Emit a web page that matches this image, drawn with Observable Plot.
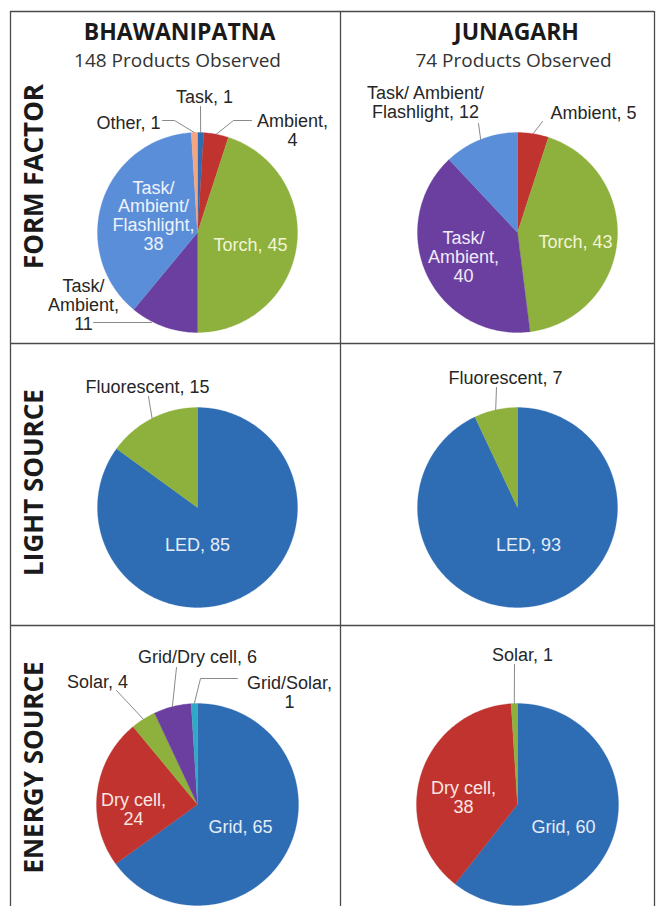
<!DOCTYPE html>
<html><head><meta charset="utf-8">
<script src="https://cdn.jsdelivr.net/npm/d3@7"></script>
<script src="https://cdn.jsdelivr.net/npm/@observablehq/plot@0.6"></script>
<style>body{margin:0;background:#fff}</style>
</head><body><div id="chart"></div>
<script>
// ---------- DATA ----------
const cities = ["BHAWANIPATNA", "JUNAGARH"];
const productsObserved = [148, 74];
const rowTitles = ["FORM FACTOR", "LIGHT SOURCE", "ENERGY SOURCE"];

const formBhawCats = ["Task", "Ambient", "Torch", "Task/ Ambient", "Task/ Ambient/ Flashlight", "Other"];
const formBhawVals = [1, 4, 45, 11, 38, 1];
const formJunaCats = ["Ambient", "Torch", "Task/ Ambient", "Task/ Ambient/ Flashlight"];
const formJunaVals = [5, 43, 40, 12];
const lightBhawCats = ["LED", "Fluorescent"];
const lightBhawVals = [85, 15];
const lightJunaCats = ["LED", "Fluorescent"];
const lightJunaVals = [93, 7];
const energyBhawCats = ["Grid", "Dry cell", "Solar", "Grid/Dry cell", "Grid/Solar"];
const energyBhawVals = [65, 24, 4, 6, 1];
const energyJunaCats = ["Grid", "Dry cell", "Solar"];
const energyJunaVals = [60, 38, 1];

// ---------- STYLE ----------
const categoryColors = {
  "Task": "#2E6DB4", "Ambient": "#C0332E", "Torch": "#8DB13C",
  "Task/ Ambient": "#6B3FA0", "Task/ Ambient/ Flashlight": "#5B8ED8", "Other": "#F4A582",
  "LED": "#2E6DB4", "Fluorescent": "#8DB13C",
  "Grid": "#2E6DB4", "Dry cell": "#C0332E", "Solar": "#8DB13C",
  "Grid/Dry cell": "#6B3FA0", "Grid/Solar": "#31A9C6"
};
const insideTextColors = {
  "#8DB13C": "#F1F5D6", "#5B8ED8": "#EEF3FB", "#6B3FA0": "#F1EAF8",
  "#C0332E": "#FBE6E2", "#2E6DB4": "#E4ECF8"
};

// ---------- LAYOUT ----------
const W = 657, H = 906;
const colX = [197, 517];
const rowY = [232, 507, 804];
const radii = [100, 100, 101];
const borderXs = [10, 340, 654];
const borderYs = [11, 343, 625];

// label placement per pie: dx, dy relative to pie center (dy = baseline of last line)
const pies = [
  {row: 0, col: 0, cats: formBhawCats, vals: formBhawVals, labels: {
    "Task": {dx: 7, dy: -130, leader: [[3, -126]]},
    "Ambient": {dx: 95, dy: -87, wrap: [1], leader: [[54, -112], [36, -112]]},
    "Torch": {dx: 53, dy: 18, inside: true},
    "Task/ Ambient": {dx: -114, dy: 97, wrap: [1, 1], leader: [[-104, 90], [-46, 90]], noSlice: true},
    "Task/ Ambient/ Flashlight": {dx: -44, dy: 17, wrap: [1, 1, 1], inside: true},
    "Other": {dx: -37, dy: -104, anchor: "end", leader: [[-35, -112], [-23, -112]]}
  }},
  {row: 0, col: 1, cats: formJunaCats, vals: formJunaVals, labels: {
    "Ambient": {dx: 76, dy: -114, leader: [[25, -111]]},
    "Torch": {dx: 58, dy: 15, inside: true},
    "Task/ Ambient": {dx: -54, dy: 49, wrap: [1, 1], inside: true},
    "Task/ Ambient/ Flashlight": {dx: -92, dy: -115, wrap: [0, 1, 0], leader: [[-39, -109]]}
  }},
  {row: 1, col: 0, cats: lightBhawCats, vals: lightBhawVals, labels: {
    "LED": {dx: 0, dy: 43, inside: true},
    "Fluorescent": {dx: -50, dy: -115, leader: [[-49, -111]]}
  }},
  {row: 1, col: 1, cats: lightJunaCats, vals: lightJunaVals, labels: {
    "LED": {dx: 11, dy: 43, inside: true},
    "Fluorescent": {dx: -12, dy: -124, leader: [[-21, -120]]}
  }},
  {row: 2, col: 0, cats: energyBhawCats, vals: energyBhawVals, labels: {
    "Grid": {dx: 43, dy: 28, inside: true},
    "Dry cell": {dx: -64, dy: 20, wrap: [0, 1], inside: true},
    "Solar": {dx: -100, dy: -117, leader: [[-81, -114]]},
    "Grid/Dry cell": {dx: 0, dy: -142, leader: [[-21, -137]]},
    "Grid/Solar": {dx: 92, dy: -97, wrap: [1], leader: [[40, -126], [3, -126]]}
  }},
  {row: 2, col: 1, cats: energyJunaCats, vals: energyJunaVals, labels: {
    "Grid": {dx: 46, dy: 28, inside: true},
    "Dry cell": {dx: -54, dy: 8, wrap: [0, 1], inside: true},
    "Solar": {dx: 5, dy: -144, leader: [[-3, -140]]}
  }}
];

// ---------- BUILD ----------
const sliceMarks = [];
const labelRows = [];
const leaderRows = [];
let leaderId = 0;

for (const p of pies) {
  const cx = colX[p.col], cy = rowY[p.row], r = radii[p.row];
  const total = d3.sum(p.vals);
  let cum = 0;
  p.cats.forEach((cat, i) => {
    const a0 = cum / total * 2 * Math.PI;
    cum += p.vals[i];
    const a1 = cum / total * 2 * Math.PI;
    const n = Math.max(2, Math.ceil((a1 - a0) / (Math.PI / 180)));
    const pts = [{x: cx, y: cy}];
    for (let k = 0; k <= n; k++) {
      const t = a0 + (a1 - a0) * k / n;
      pts.push({x: cx + r * Math.sin(t), y: cy - r * Math.cos(t)});
    }
    pts.push({x: cx, y: cy});
    const color = categoryColors[cat];
    sliceMarks.push(Plot.line(pts, {x: "x", y: "y", fill: color, stroke: color, strokeWidth: 0.3, curve: "linear"}));

    const L = p.labels[cat];
    if (!L) return;
    // label text from category and value, wrapping chosen spaces
    const parts = `${cat}, ${p.vals[i]}`.split(" ");
    const wrap = L.wrap || [];
    let text = parts[0];
    for (let k = 1; k < parts.length; k++) text += (wrap[k - 1] ? "\n" : " ") + parts[k];
    labelRows.push({
      x: cx + L.dx, y: cy + L.dy, text,
      anchor: L.anchor || "middle",
      color: L.inside ? insideTextColors[color] : "#262626"
    });
    if (L.leader) {
      const id = leaderId++;
      for (const [dx, dy] of L.leader) leaderRows.push({id, x: cx + dx, y: cy + dy});
      if (!L.noSlice) {
        const am = (a0 + a1) / 2;
        leaderRows.push({id, x: cx + r * Math.sin(am), y: cy - r * Math.cos(am)});
      }
    }
  });
}

const headerRows = cities.map((c, i) => ({x: [179, 516][i], y: 39, text: c}));
const subRows = productsObserved.map((n, i) => ({x: [177, 513][i], y: 66, text: `${n} Products Observed`}));
const rowTitleRows = rowTitles.map((t, i) => ({x: 42, y: [176, 482, 767][i], text: t}));

const chart = Plot.plot({
  width: W, height: H, margin: 0,
  x: {domain: [0, W], range: [0, W], axis: null},
  y: {domain: [0, H], range: [0, H], axis: null},
  style: {background: "white", fontFamily: "'Liberation Sans', Arial, sans-serif"},
  marks: [
    Plot.ruleX(borderXs, {x: d => d, y1: borderYs[0], y2: H, stroke: "#4a4a4a", strokeWidth: 1.3}),
    Plot.ruleY(borderYs, {y: d => d, x1: borderXs[0], x2: borderXs[2], stroke: "#4a4a4a", strokeWidth: 1.3}),
    ...sliceMarks,
    Plot.line(leaderRows, {x: "x", y: "y", z: "id", stroke: "#8a8a8a", strokeWidth: 1, curve: "linear"}),
    Plot.text(labelRows.filter(d => d.anchor === "middle"), {x: "x", y: "y", text: "text", fill: "color", fontSize: 18, textAnchor: "middle", lineAnchor: "bottom", lineHeight: 1.03}),
    Plot.text(labelRows.filter(d => d.anchor === "end"), {x: "x", y: "y", text: "text", fill: "color", fontSize: 18, textAnchor: "end", lineAnchor: "bottom", lineHeight: 1.03}),
    Plot.text(headerRows, {x: "x", y: "y", text: "text", fontSize: 23, fontWeight: "bold", fill: "#1a1a1a", lineAnchor: "bottom", fontFamily: "'Open Sans', sans-serif"}),
    Plot.text(subRows, {x: "x", y: "y", text: "text", fontSize: 19, fill: "#333", lineAnchor: "bottom", fontFamily: "'Open Sans', sans-serif"}),
    Plot.text(rowTitleRows, {x: "x", y: "y", text: "text", fontSize: 26, fontWeight: "bold", fill: "#1a1a1a", rotate: -90, lineAnchor: "bottom", fontFamily: "'Open Sans', sans-serif"})
  ]
});
document.getElementById("chart").appendChild(chart);
</script>
</body></html>
